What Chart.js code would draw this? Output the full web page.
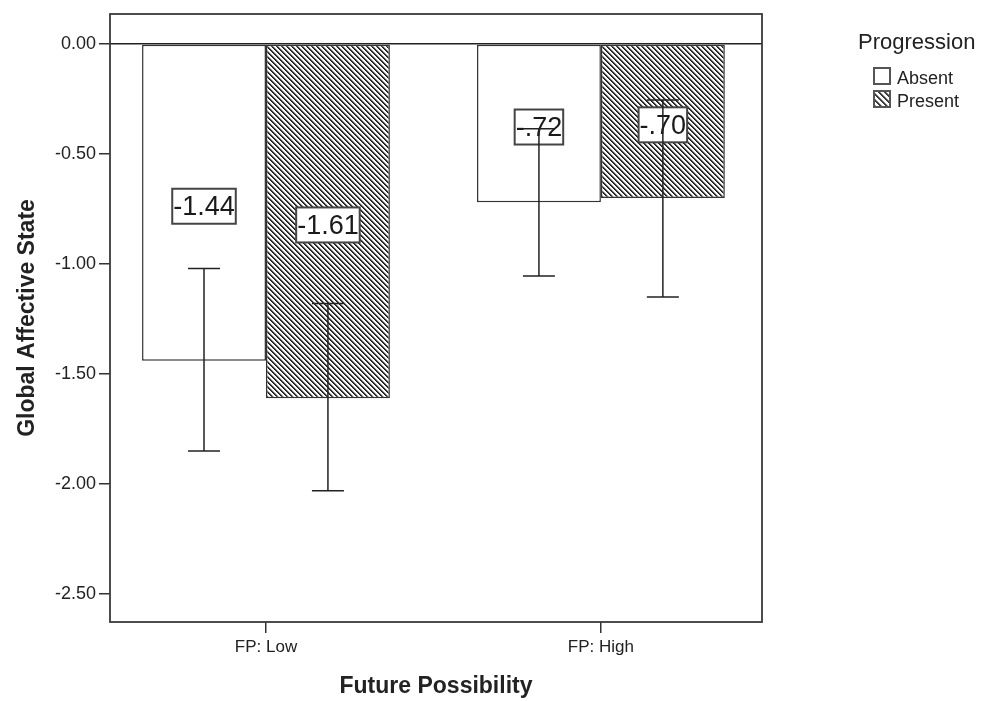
<!DOCTYPE html>
<html><head><meta charset="utf-8">
<script src="https://cdn.jsdelivr.net/npm/chart.js@4.4.1/dist/chart.umd.min.js"></script>
<style>html,body{margin:0;padding:0;background:#fff;}#wrap{width:987px;height:701px;}</style>
</head><body><div id="wrap"><canvas id="c" width="987" height="701"></canvas></div>
<script>
const categories = ['FP: Low', 'FP: High'];
const groupNames = ['Absent', 'Present'];
const absentMeans = [-1.44, -0.72];
const presentMeans = [-1.61, -0.70];
const absentCILow = [-1.85, -1.055];
const absentCIHigh = [-1.02, -0.385];
const presentCILow = [-2.03, -1.15];
const presentCIHigh = [-1.18, -0.255];
const yTickValues = [0, -0.5, -1, -1.5, -2, -2.5];
const yMin = -2.627, yMax = 0.136;
const xMin = -0.4657, xMax = 1.481;
const legendTitle = 'Progression';
const xTitle = 'Future Possibility';
const yTitle = 'Global Affective State';

const FONT = '"Liberation Sans", Arial, sans-serif';

function makeHatch(period, shades) {
  const c = document.createElement('canvas');
  c.width = period; c.height = period;
  const g = c.getContext('2d');
  const img = g.createImageData(period, period);
  for (let y = 0; y < period; y++) for (let x = 0; x < period; x++) {
    const k = ((x - y) % period + period) % period;
    const v = k < shades.length ? shades[k] : 255;
    const i = (y * period + x) * 4;
    img.data[i] = v; img.data[i+1] = v; img.data[i+2] = v; img.data[i+3] = 255;
  }
  g.putImageData(img, 0, 0);
  return document.getElementById('c').getContext('2d').createPattern(c, 'repeat');
}
const hatch = makeHatch(5, [30, 60, 190]);
const legendHatch = makeHatch(6, [60, 60, 150]);

function spssFmt(v) {
  let s = Math.abs(v).toFixed(2);
  if (s.startsWith('0')) s = s.slice(1);
  return (v < 0 ? '-' : '') + s;
}

const errLow = [absentCILow, presentCILow];
const errHigh = [absentCIHigh, presentCIHigh];

const framePlugin = {
  id: 'frame',
  afterDatasetsDraw(chart) {
    const ctx = chart.ctx;
    const yS = chart.scales.y;
    chart.data.datasets.forEach((ds, di) => {
      const meta = chart.getDatasetMeta(di);
      meta.data.forEach((el, i) => {
        const v = ds.data[i].y;
        const t = spssFmt(v);
        const yMid = (el.y + el.base) / 2 + 3;
        ctx.save();
        ctx.font = '27px ' + FONT;
        const w = ctx.measureText(t).width;
        ctx.fillStyle = '#fff';
        ctx.fillRect(el.x - w / 2 - 1, yMid - 17, w + 2, 35);
        ctx.strokeStyle = '#444';
        ctx.lineWidth = 2;
        ctx.strokeRect(el.x - w / 2 - 1, yMid - 17, w + 2, 35);
        ctx.fillStyle = '#1a1a1a';
        ctx.textAlign = 'center';
        ctx.textBaseline = 'middle';
        ctx.fillText(t, el.x, yMid + 2);
        ctx.restore();
      });
    });
    chart.data.datasets.forEach((ds, di) => {
      const meta = chart.getDatasetMeta(di);
      meta.data.forEach((el, i) => {
        const yl = yS.getPixelForValue(errLow[di][i]);
        const yh = yS.getPixelForValue(errHigh[di][i]);
        ctx.save();
        ctx.strokeStyle = '#222';
        ctx.lineWidth = 1.5;
        ctx.beginPath();
        ctx.moveTo(el.x, yl); ctx.lineTo(el.x, yh);
        ctx.moveTo(el.x - 16, yl); ctx.lineTo(el.x + 16, yl);
        ctx.moveTo(el.x - 16, yh); ctx.lineTo(el.x + 16, yh);
        ctx.stroke();
        ctx.restore();
      });
    });
    const a = chart.chartArea;
    ctx.save();
    ctx.strokeStyle = '#3a3a3a';
    ctx.lineWidth = 1.8;
    ctx.strokeRect(a.left, a.top, a.right - a.left, a.bottom - a.top);
    ctx.restore();
  },
  afterDraw(chart) {
    const ctx = chart.ctx;
    ctx.save();
    ctx.fillStyle = '#222';
    ctx.textAlign = 'left';
    ctx.textBaseline = 'alphabetic';
    ctx.font = '22px ' + FONT;
    ctx.fillText(legendTitle, 858, 49);
    ctx.font = '18px ' + FONT;
    chart.data.datasets.forEach((ds, di) => {
      const by = 68 + di * 23;
      ctx.fillStyle = di === 0 ? '#fff' : legendHatch;
      ctx.fillRect(874, by, 16, 16);
      ctx.strokeStyle = '#555';
      ctx.lineWidth = 2;
      ctx.strokeRect(874, by, 16, 16);
      ctx.fillStyle = '#222';
      ctx.fillText(ds.label, 897, by + 16);
    });
    ctx.restore();
  }
};

new Chart(document.getElementById('c'), {
  type: 'bar',
  data: {
    datasets: [
      { label: groupNames[0], data: absentMeans.map((v, i) => ({ x: i, y: v })), backgroundColor: '#ffffff', borderColor: '#333', borderWidth: 1.5, borderSkipped: false },
      { label: groupNames[1], data: presentMeans.map((v, i) => ({ x: i, y: v })), backgroundColor: hatch, borderColor: '#333', borderWidth: 1.5, borderSkipped: false }
    ]
  },
  options: {
    responsive: false,
    animation: false,
    devicePixelRatio: 1,
    layout: { padding: { top: 14, right: 225, left: 0, bottom: 0 } },
    plugins: { legend: { display: false }, tooltip: { enabled: false } },
    datasets: { bar: { categoryPercentage: 0.74, barPercentage: 1.0 } },
    scales: {
      x: {
        type: 'linear',
        offset: false,
        min: xMin, max: xMax,
        border: { display: false },
        afterBuildTicks(s) { s.ticks = categories.map((c, i) => ({ value: i })); },
        grid: { display: true, offset: false, drawOnChartArea: false, drawTicks: true, tickLength: 11, tickColor: '#333', lineWidth: 1.5 },
        ticks: { color: '#222', font: { family: FONT, size: 17 }, padding: 4, maxRotation: 0, autoSkip: false,
                 callback: v => categories[Math.round(v)] },
        title: { display: true, text: xTitle, color: '#222', font: { family: FONT, size: 23, weight: 'bold' }, padding: { top: 0, bottom: 1 } },
        afterFit(s) { s.height = 79; }
      },
      y: {
        min: yMin, max: yMax,
        border: { display: false },
        afterBuildTicks(s) { s.ticks = yTickValues.map(v => ({ value: v })); },
        grid: { drawOnChartArea: true, drawTicks: true, tickLength: 11, tickColor: '#333', lineWidth: 1.5,
                color: c => (c.tick && c.tick.value === 0) ? '#222' : 'rgba(0,0,0,0)' },
        ticks: { color: '#222', font: { family: FONT, size: 18 }, padding: 3, callback: v => Number(v).toFixed(2) },
        title: { display: true, text: yTitle, color: '#222', font: { family: FONT, size: 23, weight: 'bold' }, padding: { top: 14, bottom: 0 } },
        afterFit(s) { s.width = 110; }
      }
    }
  },
  plugins: [framePlugin]
});
</script></body></html>
